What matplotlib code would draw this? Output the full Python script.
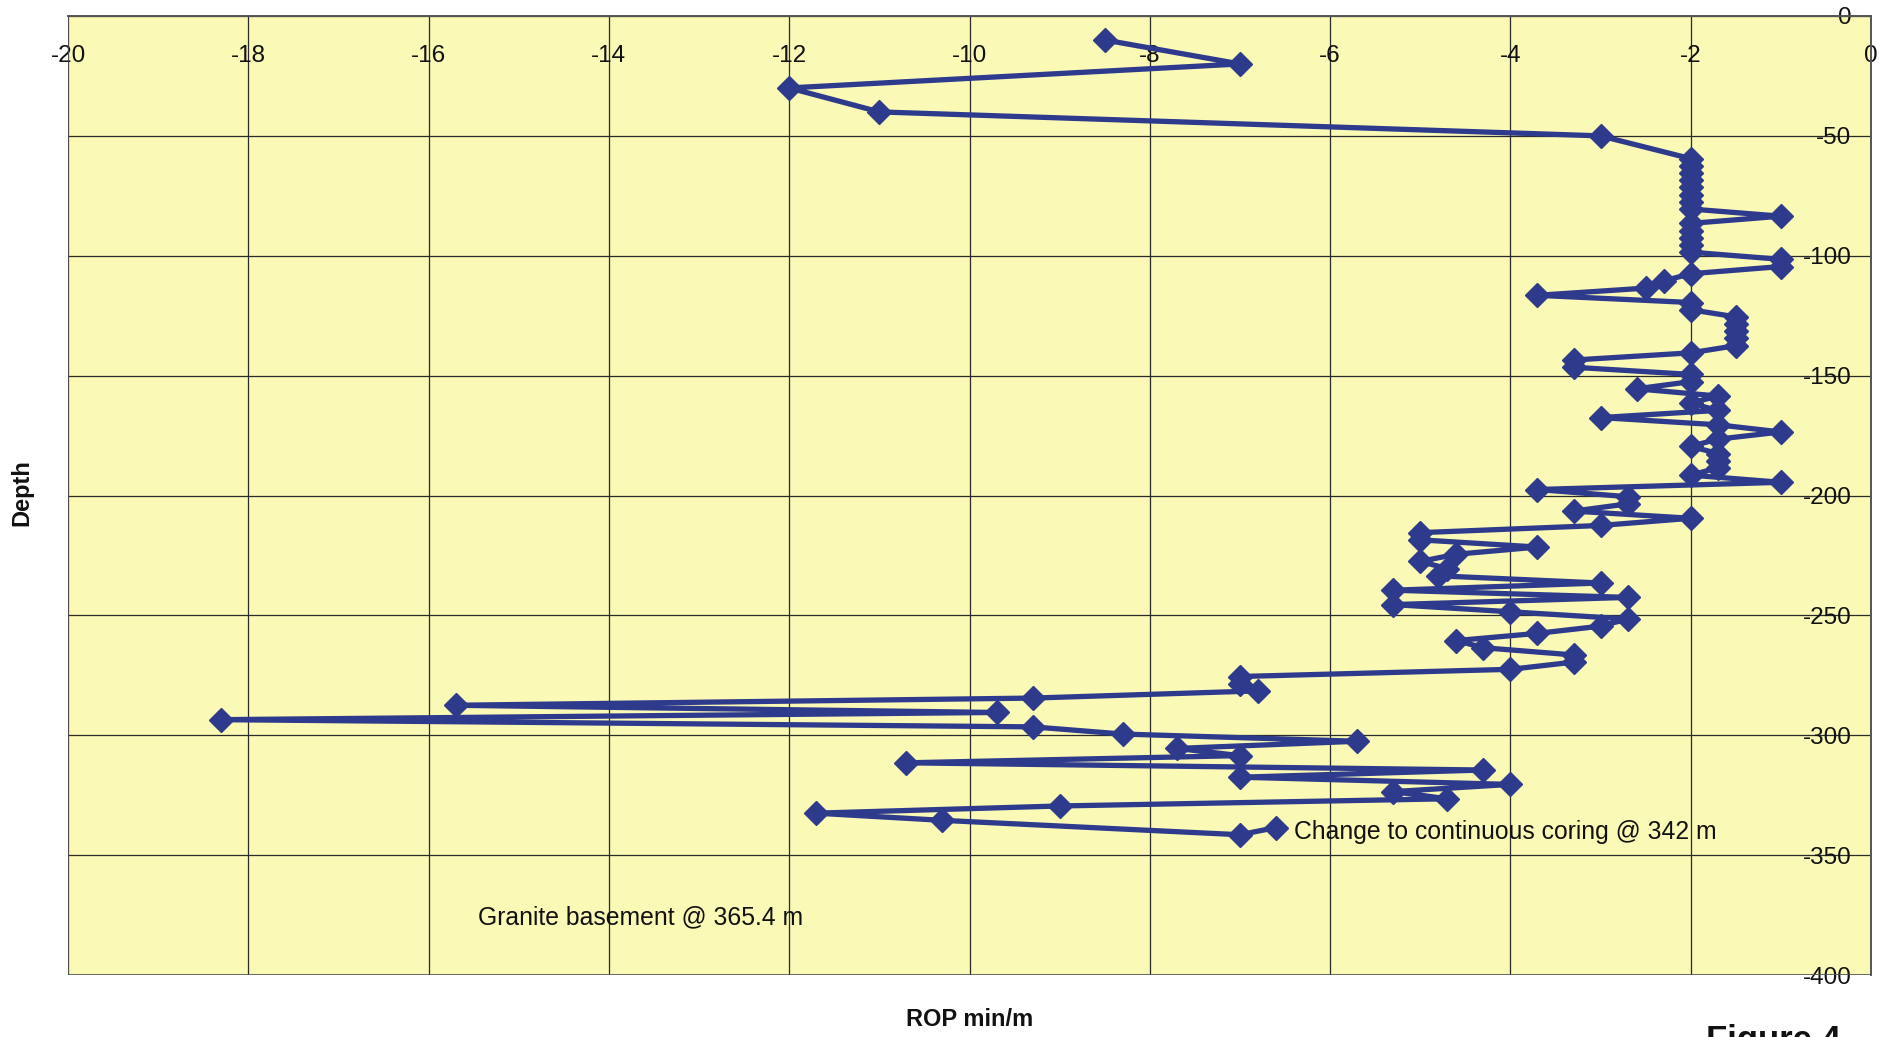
import matplotlib
matplotlib.use("Agg")
import matplotlib.pyplot as plt

plt.rcParams['font.family'] = ['Liberation Sans', 'DejaVu Sans']

# ---- data (depth in m, negative downwards; ROP in min/m, negative) ----
depth = [-10, -20, -30, -40, -50,
         -59.5, -62.5, -65.5, -68.5, -71.5, -74.5, -77.5, -80.5, -83.5, -86.5,
         -89.5, -92.5, -95.5, -98.5, -101.5, -104.5, -107.5, -110.5, -113.5, -116.5,
         -119.5, -122.5, -125.5, -128.5, -131.5, -134.5, -137.5, -140.5, -143.5, -146.5,
         -149.5, -152.5, -155.5, -158.5, -161.5, -164.5, -167.5, -170.5, -173.5, -176.5,
         -179.5, -182.5, -185.5, -188.5, -191.5, -194.5, -197.5, -200.5, -203.5, -206.5,
         -209.5, -212.5, -215.5, -218.5, -221.5, -224.5, -227.5, -230.5, -233.5, -236.5,
         -239.5, -242.5, -245.5, -248.5, -251.5, -254.5, -257.5, -260.5, -263.5, -266.5,
         -269.5, -272.5, -275.5, -278.5, -281.5, -284.5, -287.5, -290.5, -293.5, -296.5,
         -299.5, -302.5, -305.5, -308.5, -311.5, -314.5, -317.5, -320.5, -323.5, -326.5,
         -329.5, -332.5, -335.5, -341.5, -338.5]
rop = [-8.5, -7.0, -12.0, -11.0, -3.0,
       -2, -2, -2, -2, -2, -2, -2, -2, -1, -2,
       -2, -2, -2, -2, -1, -1, -2, -2.3, -2.5, -3.7,
       -2, -2, -1.5, -1.5, -1.5, -1.5, -1.5, -2, -3.3, -3.3,
       -2, -2, -2.6, -1.7, -2, -1.7, -3, -1.7, -1, -1.7,
       -2, -1.7, -1.7, -1.7, -2, -1, -3.7, -2.7, -2.7, -3.3,
       -2, -3, -5, -5, -3.7, -4.6, -5, -4.7, -4.8, -3,
       -5.3, -2.7, -5.3, -4, -2.7, -3, -3.7, -4.6, -4.3, -3.3,
       -3.3, -4, -7, -7, -6.8, -9.3, -15.7, -9.7, -18.3, -9.3,
       -8.3, -5.7, -7.7, -7, -10.7, -4.3, -7, -4, -5.3, -4.7,
       -9, -11.7, -10.3, -7, -6.6]

x_ticks = list(range(-20, 1, 2))
y_ticks = list(range(0, -401, -50))

annot_coring = "Change to continuous coring @ 342 m"
annot_coring_pos = (-6.4, -340.5)
annot_granite = "Granite basement @ 365.4 m"
annot_granite_pos = (-15.45, -376)

W, H = 1896, 1037
fig = plt.figure(figsize=(W / 100, H / 100), dpi=100)
fig.patch.set_facecolor('white')

left, right, top, bottom = 68, 1871, 16, 975
ax = fig.add_axes([left / W, 1 - bottom / H, (right - left) / W, (bottom - top) / H])
ax.set_facecolor('#FAF9B6')

ax.plot(rop, depth, color='#2E3A8C', lw=3.8, marker='D', markersize=12.5,
        markerfacecolor='#2E3A8C', markeredgecolor='#2E3A8C', zorder=3,
        solid_joinstyle='miter')

ax.set_xlim(-20, 0)
ax.set_ylim(-400, 0)
ax.set_xticks(x_ticks)
ax.set_yticks(y_ticks)
ax.set_xticklabels([str(v) for v in x_ticks])
ax.set_yticklabels([str(v) for v in y_ticks])

# axes cross at top / right, labels drawn inside the plot area
ax.spines['left'].set_position(('axes', 1.0))
ax.spines['bottom'].set_position(('axes', 1.0))
for s in ax.spines.values():
    s.set_color('#555555')
    s.set_linewidth(1.2)

ax.tick_params(axis='x', length=0, pad=21, labelsize=17.5, colors='#111111')
ax.tick_params(axis='y', length=0, pad=14, labelsize=17.5, colors='#111111')

ax.grid(True, color='#2a2a2a', lw=0.9)
ax.set_axisbelow(True)

# extra frame edges (left and bottom)
ax.axvline(-20, color='#555555', lw=1.2, zorder=1)
ax.axhline(-400, color='#555555', lw=1.2, zorder=1)

ax.text(annot_coring_pos[0], annot_coring_pos[1], annot_coring, fontsize=17.8,
        ha='left', va='center', color='#111111', zorder=4)
ax.text(annot_granite_pos[0], annot_granite_pos[1], annot_granite, fontsize=17.8,
        ha='left', va='center', color='#111111', zorder=4)

fig.text(970 / W, 1 - 1019 / H, 'ROP min/m', fontsize=17, fontweight='bold',
         ha='center', va='center', color='#111111')
fig.text(22 / W, 1 - 493 / H, 'Depth', fontsize=17, fontweight='bold',
         rotation=90, ha='center', va='center', color='#111111')
fig.text(1706 / W, 1 - 1050 / H, 'Figure 4', fontsize=25, fontweight='bold',
         ha='left', va='baseline', color='#111111')

fig.savefig('out.png', dpi=100, facecolor='white')
